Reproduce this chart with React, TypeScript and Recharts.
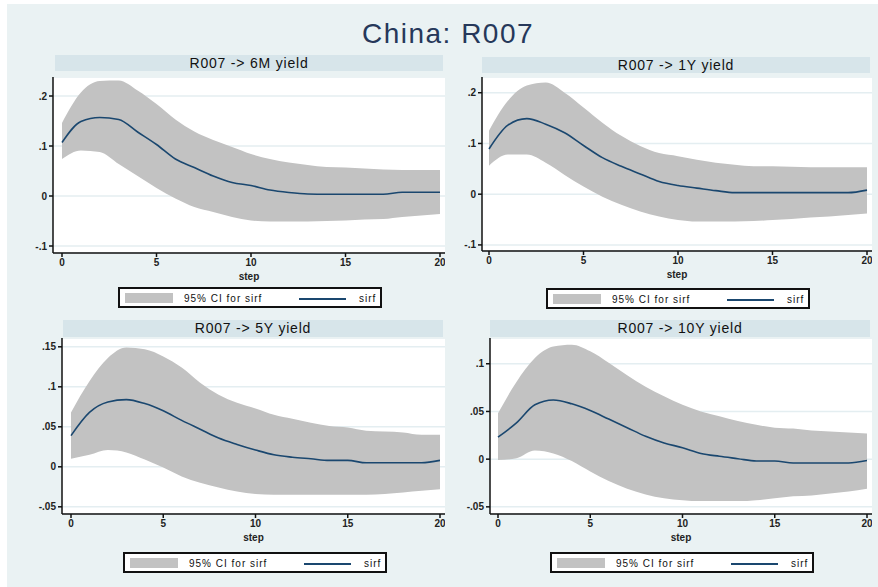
import { ComposedChart, Area, Line, XAxis, YAxis, CartesianGrid } from "recharts";

const steps = [0, 1, 2, 3, 4, 5, 6, 7, 8, 9, 10, 11, 12, 13, 14, 15, 16, 17, 18, 19, 20];
const xTicks = [0, 5, 10, 15, 20];

const irf6M = [0.107, 0.149, 0.157, 0.153, 0.128, 0.103, 0.074, 0.057, 0.04, 0.027, 0.021, 0.012, 0.007, 0.004, 0.0035, 0.0035, 0.0035, 0.0035, 0.0075, 0.0075, 0.0075];
const lo6M = [0.074, 0.091, 0.088, 0.064, 0.04, 0.016, -0.005, -0.022, -0.032, -0.042, -0.049, -0.051, -0.051, -0.051, -0.05, -0.049, -0.047, -0.046, -0.042, -0.039, -0.036];
const hi6M = [0.146, 0.207, 0.23, 0.231, 0.211, 0.184, 0.153, 0.129, 0.112, 0.098, 0.084, 0.074, 0.067, 0.062, 0.058, 0.057, 0.055, 0.053, 0.052, 0.052, 0.052];

const irf1Y = [0.089, 0.136, 0.149, 0.138, 0.121, 0.096, 0.072, 0.055, 0.04, 0.025, 0.017, 0.012, 0.007, 0.003, 0.003, 0.003, 0.003, 0.003, 0.003, 0.003, 0.008];
const lo1Y = [0.056, 0.078, 0.078, 0.062, 0.038, 0.015, -0.005, -0.021, -0.034, -0.044, -0.051, -0.054, -0.054, -0.054, -0.053, -0.051, -0.049, -0.046, -0.044, -0.041, -0.038];
const hi1Y = [0.125, 0.184, 0.214, 0.22, 0.2, 0.171, 0.141, 0.115, 0.095, 0.081, 0.075, 0.068, 0.062, 0.058, 0.055, 0.055, 0.054, 0.053, 0.053, 0.053, 0.053];

const irf5Y = [0.039, 0.068, 0.081, 0.084, 0.079, 0.07, 0.058, 0.047, 0.036, 0.028, 0.021, 0.015, 0.012, 0.01, 0.008, 0.008, 0.005, 0.005, 0.005, 0.005, 0.008];
const lo5Y = [0.01, 0.015, 0.021, 0.018, 0.009, -0.001, -0.012, -0.02, -0.026, -0.031, -0.034, -0.035, -0.035, -0.035, -0.035, -0.035, -0.035, -0.034, -0.032, -0.03, -0.028];
const hi5Y = [0.068, 0.107, 0.136, 0.149, 0.147, 0.138, 0.124, 0.105, 0.09, 0.08, 0.073, 0.065, 0.06, 0.055, 0.051, 0.049, 0.045, 0.044, 0.043, 0.04, 0.04];

const irf10Y = [0.023, 0.038, 0.057, 0.062, 0.058, 0.051, 0.042, 0.033, 0.024, 0.017, 0.012, 0.006, 0.003, 0.0005, -0.002, -0.002, -0.004, -0.004, -0.004, -0.004, -0.0015];
const lo10Y = [-0.001, 0.001, 0.009, 0.006, -0.002, -0.013, -0.023, -0.031, -0.037, -0.041, -0.043, -0.044, -0.044, -0.044, -0.043, -0.041, -0.039, -0.038, -0.036, -0.034, -0.031];
const hi10Y = [0.048, 0.081, 0.106, 0.118, 0.12, 0.113, 0.101, 0.088, 0.076, 0.066, 0.057, 0.05, 0.045, 0.04, 0.036, 0.033, 0.032, 0.03, 0.029, 0.028, 0.027];

const yTicks6M = [-0.1, 0, 0.1, 0.2];
const yTicks1Y = [-0.1, 0, 0.1, 0.2];
const yTicks5Y = [-0.05, 0, 0.05, 0.1, 0.15];
const yTicks10Y = [-0.05, 0, 0.05, 0.1];

const FONT = "'Liberation Sans', Arial, sans-serif";
const BAND = "#c2c2c2";
const LINE = "#1a476f";
const Y_W = 50;
const X_H = 30;

const fmt = (v: number) => (v === 0 ? "0" : String(v).replace(/^(-?)0\./, "$1."));

const rows = (irf: number[], lo: number[], hi: number[]) =>
  steps.map((s, i) => ({ step: s, band: [lo[i], hi[i]], irf: irf[i] }));

const panels = [
  { title: "R007 -> 6M yield", data: rows(irf6M, lo6M, hi6M), yTicks: yTicks6M, domain: [-0.114, 0.238],
    plot: { x: 53, y: 77, w: 392, h: 176 }, pad: { left: 9, right: 5 }, strip: { x: 55, y: 55, w: 388, h: 16 }, legend: { x: 118, y: 287 } },
  { title: "R007 -> 1Y yield", data: rows(irf1Y, lo1Y, hi1Y), yTicks: yTicks1Y, domain: [-0.112, 0.231],
    plot: { x: 482, y: 77, w: 390, h: 174 }, pad: { left: 7, right: 5 }, strip: { x: 482, y: 57, w: 388, h: 16 }, legend: { x: 546, y: 288 } },
  { title: "R007 -> 5Y yield", data: rows(irf5Y, lo5Y, hi5Y), yTicks: yTicks5Y, domain: [-0.059, 0.161],
    plot: { x: 62, y: 338, w: 383, h: 176 }, pad: { left: 9, right: 5 }, strip: { x: 63, y: 320, w: 380, h: 17 }, legend: { x: 123, y: 552 } },
  { title: "R007 -> 10Y yield", data: rows(irf10Y, lo10Y, hi10Y), yTicks: yTicks10Y, domain: [-0.0575, 0.127],
    plot: { x: 490, y: 338, w: 382, h: 176 }, pad: { left: 8, right: 5 }, strip: { x: 490, y: 320, w: 380, h: 17 }, legend: { x: 550, y: 552 } },
];

function LegendBox({ x, y }: { x: number; y: number }) {
  const txt = { position: "absolute" as const, top: 4, fontSize: 10, letterSpacing: 1, color: "#111", fontFamily: FONT, lineHeight: "12px" };
  return (
    <div style={{ position: "absolute", left: x, top: y, width: 260, height: 17, border: "2px solid #111", background: "#fff" }}>
      <div style={{ position: "absolute", left: 5, top: 4, width: 48, height: 10, background: BAND }} />
      <div style={{ ...txt, left: 64 }}>95% CI for sirf</div>
      <div style={{ position: "absolute", left: 179, top: 9, width: 47, height: 1.5, background: LINE }} />
      <div style={{ ...txt, left: 239 }}>sirf</div>
    </div>
  );
}

export default function App() {
  return (
    <div style={{ position: "absolute", left: 0, top: 0, width: 878, height: 587, background: "#fff", overflow: "hidden" }}>
      <div style={{ position: "absolute", left: 7, top: 4, width: 871, height: 583, background: "#eaf2f3" }} />
      <div style={{ position: "absolute", left: 0, top: 18, width: 896, textAlign: "center", fontFamily: FONT, fontSize: 28, letterSpacing: 1.5, color: "#26385a" }}>
        China: R007
      </div>
      {panels.map((p) => (
        <div key={p.title}>
          <div style={{ position: "absolute", left: p.strip.x, top: p.strip.y, width: p.strip.w, height: p.strip.h, background: "#d7e5ea",
            fontFamily: FONT, fontSize: 14, letterSpacing: 0.8, lineHeight: `${p.strip.h}px`, textAlign: "center", color: "#111" }}>
            {p.title}
          </div>
          <div style={{ position: "absolute", left: p.plot.x - Y_W, top: p.plot.y }}>
            <ComposedChart width={p.plot.w + Y_W} height={p.plot.h + X_H} data={p.data} margin={{ top: 0, right: 0, bottom: 0, left: 0 }}>
              <CartesianGrid vertical={false} stroke="#e4eef1" strokeWidth={1.5} fill="#fff" />
              <XAxis dataKey="step" type="number" domain={[0, 20]} ticks={xTicks} padding={p.pad} height={X_H}
                stroke="#111" strokeWidth={1.5} tickSize={4} tickMargin={2}
                tick={{ fontSize: 10, fontWeight: "bold", fill: "#222", fontFamily: FONT }}
                label={{ value: "step", position: "insideBottom", offset: 3, fontSize: 10, fontWeight: "bold", fill: "#222", fontFamily: FONT }} />
              <YAxis type="number" domain={p.domain} ticks={p.yTicks} width={Y_W} allowDataOverflow
                stroke="#111" strokeWidth={1.5} tickSize={4} tickMargin={2} tickFormatter={fmt}
                tick={{ fontSize: 10, fontWeight: "bold", fill: "#222", fontFamily: FONT }} />
              <Area dataKey="band" type="monotone" stroke="none" fill={BAND} fillOpacity={1} isAnimationActive={false} />
              <Line dataKey="irf" type="monotone" stroke={LINE} strokeWidth={1.6} dot={false} isAnimationActive={false} />
            </ComposedChart>
          </div>
          <LegendBox x={p.legend.x} y={p.legend.y} />
        </div>
      ))}
    </div>
  );
}
